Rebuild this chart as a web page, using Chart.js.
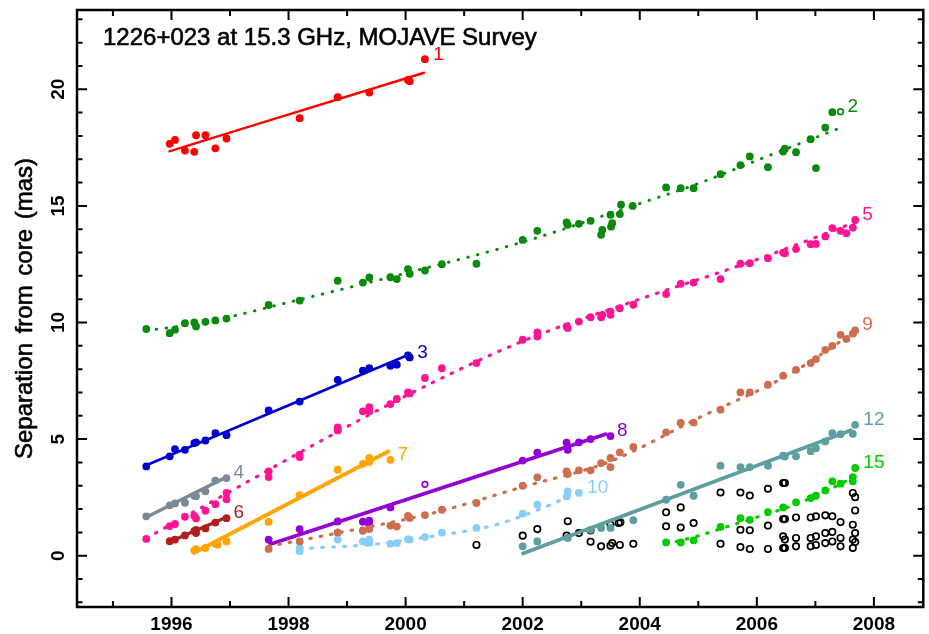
<!DOCTYPE html>
<html>
<head>
<meta charset="utf-8">
<script src="https://cdn.jsdelivr.net/npm/chart.js@4.4.1/dist/chart.umd.min.js"></script>
<style>
  html, body { margin: 0; padding: 0; background: #fff; }
  canvas { display: block; }
</style>
</head>
<body>
<canvas id="myChart" width="929" height="634"></canvas>
<script>
// axis ranges and tick labels
const xMin = 1994.386, xMax = 2008.844;
const yMin = -2.2, yMax = 23.4;
const xTickLabels = [1996, 1998, 2000, 2002, 2004, 2006, 2008];
const xMinorTicks = [1995, 1996, 1997, 1998, 1999, 2000, 2001, 2002, 2003, 2004, 2005, 2006, 2007, 2008];
const yTickLabels = [0, 5, 10, 15, 20];
const titleText = "1226+023 at 15.3 GHz, MOJAVE Survey";
const yTitle = "Separation from core (mas)";

// component positions [epoch, separation]
const c1 = [[1995.97,17.66],[1996.06,17.83],[1996.23,17.37],[1996.39,17.32],[1996.42,18.03],[1996.58,18.03],[1996.75,17.47],[1996.94,17.89],[1998.19,18.76],[1998.84,19.66],[1999.38,19.86],[2000.04,20.40],[2000.07,20.35],[2000.33,21.29]];
const c1Fit = [[1995.95,17.33],[2000.33,20.72]];

const c2 = [[1995.57,9.72],[1995.97,9.54],[1996.06,9.69],[1996.23,9.97],[1996.39,10.0],[1996.42,9.83],[1996.58,10.03],[1996.75,10.09],[1996.94,10.17],[1997.66,10.75],[1998.19,10.94],[1998.84,11.79],[1999.27,11.71],[1999.38,11.93],[1999.74,11.94],[1999.85,11.86],[2000.04,12.29],[2000.07,12.09],[2000.33,12.23],[2000.62,12.50],[2001.21,12.52],[2002.0,13.54],[2002.25,13.93],[2002.75,14.29],[2002.77,14.19],[2002.96,14.23],[2003.16,14.36],[2003.34,13.76],[2003.36,13.97],[2003.50,14.62],[2003.51,14.11],[2003.53,14.26],[2003.66,14.65],[2003.68,15.05],[2003.88,15.0],[2004.45,15.79],[2004.70,15.76],[2004.92,15.76],[2005.38,16.36],[2005.72,16.75],[2005.88,17.12],[2006.19,16.66],[2006.45,17.33],[2006.48,17.45],[2006.67,17.30],[2006.92,17.86],[2007.01,16.62],[2007.17,18.36],[2007.29,19.02]];
const c2Open = [[2007.43,19.04]];
const c2Fit = [[1995.57,9.65],[1996.5,9.98],[1998.17,10.97],[2000.04,12.14],[2002.0,13.45],[2003.84,14.97],[2004.97,15.93],[2006.1,17.05],[2007.38,18.30]];

const c3 = [[1995.57,3.83],[1995.97,4.26],[1996.06,4.57],[1996.23,4.54],[1996.39,4.83],[1996.42,4.86],[1996.58,4.94],[1996.75,5.26],[1996.94,5.17],[1997.66,6.23],[1998.19,6.61],[1998.84,7.54],[1999.27,7.93],[1999.38,8.04],[1999.74,8.14],[1999.85,8.19],[2000.04,8.59],[2000.07,8.50]];
const c3Fit = [[1995.57,3.88],[2000.07,8.64]];

const c4 = [[1995.57,1.69],[1995.97,2.16],[1996.06,2.24],[1996.23,2.27],[1996.39,2.57],[1996.42,2.55],[1996.58,2.76],[1996.75,3.22],[1996.94,3.33]];
const c4Fit = [[1995.57,1.65],[1996.94,3.37]];

const c5 = [[1995.57,0.72],[1995.97,1.27],[1996.06,1.36],[1996.23,1.67],[1996.39,1.71],[1996.42,1.60],[1996.58,1.93],[1996.75,2.21],[1996.94,2.42],[1996.94,2.69],[1997.66,3.37],[1997.66,3.62],[1998.19,4.33],[1998.19,4.23],[1998.84,5.50],[1998.84,5.37],[1999.27,6.19],[1999.38,6.37],[1999.38,6.19],[1999.74,6.50],[1999.85,6.72],[2000.04,7.0],[2000.07,6.96],[2000.33,7.62],[2000.62,8.04],[2001.21,8.26],[2002.0,9.26],[2002.25,9.57],[2002.25,9.40],[2002.75,9.83],[2002.77,9.76],[2002.96,10.04],[2003.16,10.23],[2003.34,10.23],[2003.36,10.33],[2003.50,10.47],[2003.50,10.33],[2003.66,10.61],[2003.89,10.76],[2004.45,11.22],[2004.70,11.66],[2004.92,11.71],[2005.38,11.86],[2005.72,12.52],[2005.88,12.54],[2006.19,12.76],[2006.45,13.0],[2006.48,12.97],[2006.67,13.15],[2006.92,13.36],[2007.01,13.37],[2007.17,13.69],[2007.29,14.05],[2007.43,13.93],[2007.53,13.83],[2007.64,14.07],[2007.68,14.40]];
const c5Fit = [[1995.57,0.75],[1997,2.75],[1998.5,4.85],[2000,6.85],[2002,9.2],[2004,11.0],[2006,12.7],[2007.68,14.3]];

const c6 = [[1995.97,0.62],[1996.06,0.69],[1996.23,0.87],[1996.39,1.05],[1996.42,0.97],[1996.42,1.11],[1996.58,1.17],[1996.75,1.42],[1996.94,1.61]];
const c6Fit = [[1995.97,0.60],[1996.94,1.65]];

const c7 = [[1996.39,0.23],[1996.42,0.28],[1996.58,0.33],[1996.75,0.51],[1996.79,0.47],[1996.94,0.61],[1997.66,1.45],[1998.19,2.60],[1998.84,3.69],[1999.27,3.94],[1999.38,4.19],[1999.38,4.02],[1999.74,4.11]];
const c7Fit = [[1996.36,0.09],[1999.73,4.5]];

const c8 = [[1997.66,0.69],[1998.19,1.14],[1998.84,1.47],[1999.27,1.46],[1999.38,1.50],[1999.38,1.30],[1999.74,2.07],[2002.0,4.08],[2002.25,4.42],[2002.75,4.85],[2002.77,4.54],[2002.96,4.86],[2003.16,5.0],[2003.50,5.13]];
const c8Open = [[2000.33,3.06]];
const c8Fit = [[1997.66,0.47],[2003.44,5.23]];

const c9 = [[1997.66,0.29],[1998.19,0.61],[1998.84,1.0],[1999.27,1.07],[1999.38,1.14],[1999.74,1.29],[1999.85,1.25],[2000.04,1.71],[2000.07,1.62],[2000.33,1.74],[2000.62,1.97],[2001.21,2.26],[2002.0,3.0],[2002.25,3.36],[2002.75,3.61],[2002.77,3.50],[2002.96,3.66],[2003.16,3.66],[2003.34,3.97],[2003.50,4.19],[2003.50,3.80],[2003.66,4.43],[2003.89,4.66],[2004.45,5.29],[2004.70,5.69],[2004.92,5.71],[2005.38,6.26],[2005.72,7.0],[2005.88,7.0],[2006.19,7.33],[2006.45,7.72],[2006.67,7.97],[2006.92,8.26],[2007.01,8.43],[2007.17,8.83],[2007.29,9.0],[2007.43,9.47],[2007.53,9.29],[2007.64,9.52],[2007.68,9.66]];
const c9Fit = [[1997.66,0.40],[1999,1.05],[2000.5,1.85],[2002,2.95],[2003.5,4.05],[2005,5.9],[2006.5,7.7],[2007.68,9.6]];

const c10 = [[1998.19,0.19],[1998.19,0.33],[1998.84,0.69],[1999.27,0.61],[1999.38,0.69],[1999.38,0.55],[1999.74,0.51],[1999.85,0.54],[2000.04,0.71],[2000.07,0.69],[2000.33,0.80],[2000.62,0.99],[2001.21,1.19],[2002.0,1.8],[2002.25,2.19],[2002.75,2.54],[2002.77,2.76],[2002.96,2.69]];
const c10Fit = [[1998.19,0.30],[1999.5,0.50],[2000.5,0.85],[2001.5,1.30],[2002.3,2.0],[2002.96,2.75]];

const c12 = [[2002.0,0.40],[2002.25,0.61],[2002.77,0.76],[2003.16,1.11],[2003.34,1.19],[2003.50,1.19],[2003.89,1.52],[2004.45,2.40],[2004.70,3.04],[2004.92,2.57],[2005.38,3.86],[2005.72,3.80],[2005.88,3.80],[2006.19,3.86],[2006.45,4.29],[2006.48,4.25],[2006.67,4.26],[2006.92,4.48],[2007.01,4.61],[2007.17,4.90],[2007.29,5.26],[2007.43,5.21],[2007.64,5.23],[2007.68,5.61]];
const c12Fit = [[2001.98,0.07],[2007.63,5.40]];

const c15 = [[2004.45,0.57],[2004.70,0.57],[2004.92,0.66],[2005.38,1.24],[2005.72,1.61],[2005.88,1.54],[2006.19,1.87],[2006.45,2.07],[2006.67,2.29],[2006.92,2.47],[2007.01,2.57],[2007.17,2.80],[2007.29,3.19],[2007.43,3.09],[2007.64,3.37],[2007.64,3.19],[2007.68,3.76]];
const c15Fit = [[2004.45,0.50],[2005,0.85],[2005.5,1.25],[2006,1.65],[2006.5,2.05],[2007,2.55],[2007.68,3.40]];

// unidentified components (open black circles)
const other = [[2001.21,0.46],[2002.0,0.86],[2002.25,1.14],[2002.75,0.86],[2002.77,1.48],[2002.96,0.97],[2003.16,1.08],[2003.16,0.60],[2003.34,0.40],[2003.50,1.33],[2003.50,0.43],[2003.53,0.54],[2003.64,1.40],[2003.67,1.43],[2003.66,0.46],[2003.89,0.51],[2004.45,1.86],[2004.45,1.26],[2004.70,2.07],[2004.70,1.21],[2004.92,1.40],[2005.38,2.71],[2005.38,0.51],[2005.72,2.71],[2005.72,1.11],[2005.72,0.37],[2005.88,2.58],[2005.88,1.09],[2005.88,0.29],[2006.19,2.87],[2006.19,1.29],[2006.19,0.29],[2006.45,3.12],[2006.45,1.57],[2006.45,0.83],[2006.45,0.33],[2006.48,3.12],[2006.48,1.57],[2006.48,0.69],[2006.48,0.33],[2006.67,1.64],[2006.67,0.76],[2006.67,0.40],[2006.92,1.64],[2006.92,0.76],[2006.92,0.40],[2007.01,1.69],[2007.01,0.83],[2007.01,0.46],[2007.17,1.73],[2007.17,0.97],[2007.17,0.54],[2007.29,1.69],[2007.29,1.02],[2007.29,0.61],[2007.43,1.44],[2007.43,0.76],[2007.43,0.40],[2007.64,2.69],[2007.64,1.33],[2007.64,0.69],[2007.64,0.33],[2007.68,2.51],[2007.68,1.94],[2007.68,0.97],[2007.68,0.59]];

// component name labels: text, epoch, separation, colour
const compLabels = [
  ["1", 2000.47, 21.47, "#ff0000"],
  ["2", 2007.55, 19.26, "#0a8a0a"],
  ["3", 2000.20, 8.71, "#0000cc"],
  ["4", 1997.06, 3.57, "#7a8a99"],
  ["5", 2007.80, 14.62, "#ff1493"],
  ["6", 1997.06, 1.83, "#b01e1e"],
  ["7", 1999.86, 4.33, "#ffa500"],
  ["8", 2003.61, 5.36, "#9400d3"],
  ["9", 2007.80, 9.90, "#cd6f4f"],
  ["10", 2003.10, 2.90, "#87cefa"],
  ["12", 2007.82, 5.83, "#5f9ea0"],
  ["15", 2007.82, 3.97, "#00cc00"]
];

const xy = arr => arr.map(p => ({ x: p[0], y: p[1] }));

function pts(data, color) {
  return { data: xy(data), showLine: false, pointRadius: 3.9, pointBorderWidth: 0,
    pointBackgroundColor: color, pointBorderColor: color };
}
function open(data, color, r) {
  return { data: xy(data), showLine: false, pointRadius: r || 3.2, pointBorderWidth: 1.7,
    pointBackgroundColor: "rgba(255,255,255,0)", pointBorderColor: color };
}
function fit(data, color, w, dash) {
  return { data: xy(data), showLine: true, pointRadius: 0, borderColor: color,
    borderWidth: w, borderDash: dash || [], tension: dash ? 0.4 : 0,
    cubicInterpolationMode: "monotone", borderCapStyle: dash ? "round" : "butt" };
}

const datasets = [
  fit(c1Fit, "#ff0000", 2.4), pts(c1, "#ff0000"),
  fit(c2Fit, "#0a8a0a", 3, [0.5, 9.5]), pts(c2, "#0a8a0a"), open(c2Open, "#0a8a0a", 2.8),
  fit(c3Fit, "#0000cc", 2.6), pts(c3, "#0000cc"),
  fit(c4Fit, "#7a8a99", 3.4), pts(c4, "#7a8a99"),
  fit(c5Fit, "#ff1493", 3.2, [1.5, 9]), pts(c5, "#ff1493"),
  fit(c6Fit, "#b01e1e", 3.4), pts(c6, "#b01e1e"),
  fit(c7Fit, "#ffa500", 4), pts(c7, "#ffa500"),
  fit(c9Fit, "#cd6f4f", 3.2, [1.5, 9]), pts(c9, "#cd6f4f"),
  fit(c10Fit, "#87cefa", 3.2, [2, 9]), pts(c10, "#87cefa"),
  fit(c8Fit, "#9400d3", 3.6), pts(c8, "#9400d3"), open(c8Open, "#9400d3", 2.8),
  fit(c12Fit, "#5f9ea0", 3.8), pts(c12, "#5f9ea0"),
  fit(c15Fit, "#00cc00", 3.2, [1.5, 9]), pts(c15, "#00cc00"),
  open(other, "#000000")
];

// frame with inward ticks, labels and titles
const framePlugin = {
  id: "frame",
  afterDraw(chart) {
    const { ctx, chartArea: a, scales: { x, y } } = chart;
    ctx.save();
    ctx.strokeStyle = "#000";
    ctx.lineWidth = 2;
    ctx.beginPath();
    xMinorTicks.forEach(t => {
      const px = x.getPixelForValue(t);
      const len = t % 2 === 0 ? 10 : 6;
      ctx.moveTo(px, a.bottom); ctx.lineTo(px, a.bottom - len);
      ctx.moveTo(px, a.top); ctx.lineTo(px, a.top + len);
    });
    for (let v = Math.ceil(yMin); v <= Math.floor(yMax); v++) {
      const py = y.getPixelForValue(v);
      const len = v % 5 === 0 ? 10 : 5.5;
      ctx.moveTo(a.left, py); ctx.lineTo(a.left + len, py);
      ctx.moveTo(a.right, py); ctx.lineTo(a.right - len, py);
    }
    ctx.stroke();
    ctx.lineWidth = 2.5;
    ctx.strokeRect(a.left, a.top, a.right - a.left, a.bottom - a.top);

    ctx.fillStyle = "#000";
    ctx.font = "bold 19px 'Liberation Sans', Arial, sans-serif";
    ctx.textAlign = "center";
    ctx.textBaseline = "alphabetic";
    xTickLabels.forEach(t => ctx.fillText(String(t), x.getPixelForValue(t), a.bottom + 23));
    yTickLabels.forEach(v => {
      ctx.save();
      ctx.translate(63.5, y.getPixelForValue(v));
      ctx.rotate(-Math.PI / 2);
      ctx.fillText(String(v), 0, 0);
      ctx.restore();
    });

    ctx.font = "24px 'Liberation Sans', Arial, sans-serif";
    ctx.lineWidth = 0.6;
    ctx.strokeStyle = "#000";
    ctx.save();
    ctx.translate(31.5, (a.top + a.bottom) / 2);
    ctx.rotate(-Math.PI / 2);
    ctx.wordSpacing = "3px";
    ctx.fillText(yTitle, 0, 0);
    ctx.strokeText(yTitle, 0, 0);
    ctx.restore();

    ctx.textAlign = "left";
    ctx.fillText(titleText, 103, 45);
    ctx.strokeText(titleText, 103, 45);

    ctx.font = "19px 'Liberation Sans', Arial, sans-serif";
    ctx.textBaseline = "middle";
    compLabels.forEach(l => {
      ctx.fillStyle = l[3];
      ctx.fillText(l[0], x.getPixelForValue(l[1]), y.getPixelForValue(l[2]));
    });
    ctx.restore();
  }
};

const ctx = document.getElementById("myChart").getContext("2d");
const myChart = new Chart(ctx, {
  type: "scatter",
  data: { datasets: datasets },
  options: {
    responsive: false,
    animation: false,
    layout: { padding: { left: 77, right: 1, top: 10, bottom: 27 } },
    plugins: { legend: { display: false }, tooltip: { enabled: false } },
    scales: {
      x: { type: "linear", min: xMin, max: xMax, display: false },
      y: { type: "linear", min: yMin, max: yMax, display: false }
    }
  },
  plugins: [framePlugin]
});
</script>
</body>
</html>
